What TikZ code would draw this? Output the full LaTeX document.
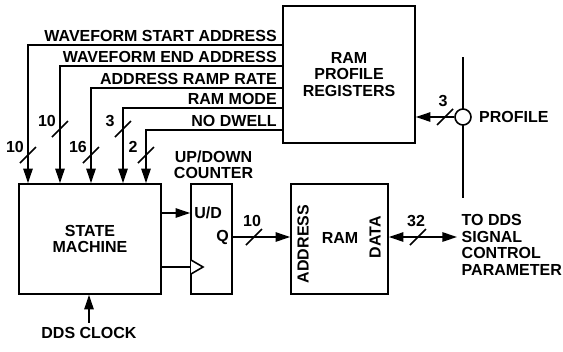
\documentclass[tikz,border=0pt]{standalone}
\usepackage{fontspec}
\setmainfont{Liberation Sans}
\usetikzlibrary{arrows.meta, positioning}

\begin{document}
\begin{tikzpicture}[
  x=0.75pt, y=-0.75pt,
  every node/.style={font=\fontsize{12}{12.4}\selectfont\bfseries},
  blk/.style={rectangle, draw=black, line width=1.2pt, fill=white, align=center},
  lbl/.style={inner sep=0pt, anchor=base east},
  num/.style={inner sep=0pt},
  arr/.style={-{Triangle[length=11pt, width=7pt]}, line width=1.4pt},
  dbl/.style={{Triangle[length=11pt, width=7pt]}-{Triangle[length=11pt, width=7pt]}, line width=1.4pt},
  wire/.style={line width=1.4pt},
  bus/.style={line width=1.1pt}
]
  \useasboundingbox (0,0) rectangle (563,351);

  % blocks
  \node[blk, minimum width=99pt, minimum height=102.75pt] (regs) at (349,74.5) {RAM\\PROFILE\\REGISTERS};
  \node[blk, minimum width=106.5pt, minimum height=82.5pt] (sm) at (90,239) {STATE\\MACHINE};
  \node[blk, minimum width=30.75pt, minimum height=82.5pt] (cnt) at (211.5,239) {};
  \node[blk, minimum width=72.75pt, minimum height=82.5pt] (ram) at (339.5,239) {};

  \node[align=center] (cntname) at (213.5,165) {UP/DOWN\\COUNTER};
  \node[anchor=west, inner sep=0pt] (ud) at (194,213) {U/D};
  \node[anchor=east, inner sep=0pt] (q) at (229,237) {Q};
  \node[rotate=90, inner sep=0pt] (addr) at (303,244) {ADDRESS};
  \node[inner sep=0pt] (ramname) at (340,238) {RAM};
  \node[rotate=90, inner sep=0pt] (data) at (375,237) {DATA};
  \node[anchor=west, align=left] (dds) at (457,245) {TO DDS\\SIGNAL\\CONTROL\\PARAMETER};
  \node (ddsclk) at (89,333) {DDS CLOCK};

  % register outputs into the state machine
  \foreach \x/\y/\txt in {28/45/WAVEFORM START ADDRESS, 60/66/WAVEFORM END ADDRESS,
                          91/88/ADDRESS RAMP RATE, 123/108/RAM MODE, 146/130/NO DWELL}
  {
    \draw[arr] (regs.west |- 0,\y) -| (sm.north -| \x,0);
    \node[lbl] at (277,\y-3.5) {\txt};
  }
  \foreach \x/\y/\n in {28/155/10, 60/129/10, 91/155/16, 123/129/3, 146/155/2}
  {
    \draw[bus] (\x-8,\y+8) -- (\x+8,\y-8);
    \node[num] at (\x-13,\y-8) {\n};
  }

  % counter and RAM
  \coordinate (clk) at (191,267);
  \draw[arr] (sm.east |- ud) -- (cnt.west |- ud);
  \draw[wire] (sm.east |- clk) -- (clk);
  \draw[line width=1.2pt, fill=white] (clk) ++(0,-7) -- ++(12,7) -- ++(-12,7);
  \draw[arr] (cnt.east |- q) -- (ram.west |- q);
  \draw[dbl] (ram.east |- data) -- (dds.west |- data);
  \draw[arr] (ddsclk.north) -- (sm.south -| ddsclk.north);

  % profile pins
  \coordinate (ptop) at (463,57);
  \coordinate (pbot) at (463,198);
  \draw[wire] (ptop) -- (pbot);
  \node[circle, draw, line width=1.2pt, fill=white, minimum size=12pt, inner sep=0pt] (prof) at (463,117) {};
  \node[right=2pt of prof] (profname) {PROFILE};
  \draw[arr] (prof.west) -- (regs.east |- prof);

  % bus widths
  \foreach \x/\y/\n in {254/237/10, 418/237/32, 445/117/3}
  {
    \draw[bus] (\x-8,\y+8) -- (\x+8,\y-8);
    \node[num] at (\x-2,\y-16) {\n};
  }
\end{tikzpicture}
\end{document}
